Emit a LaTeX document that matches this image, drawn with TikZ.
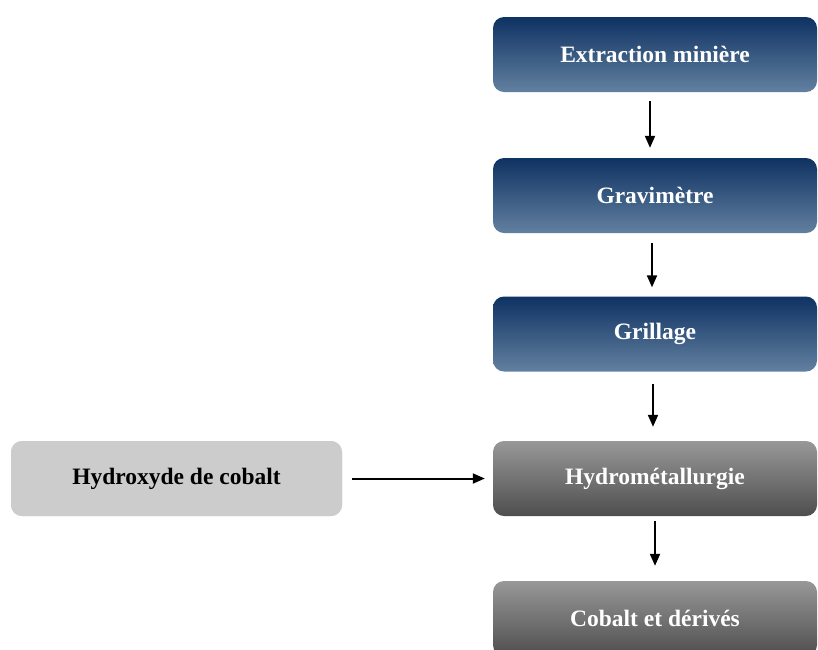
\documentclass[tikz,border=0pt]{standalone}
\usepackage{fontspec}
\setmainfont{Liberation Serif}
\usetikzlibrary{arrows.meta}

\definecolor{bluetop}{RGB}{14,50,98}
\definecolor{bluebot}{RGB}{98,128,160}
\definecolor{graytop}{RGB}{152,152,152}
\definecolor{graybot}{RGB}{78,78,78}
\definecolor{lightbox}{RGB}{204,204,204}

\tikzset{
    stepblue/.style={rounded corners=11pt, minimum width=324pt, minimum height=75pt,
        inner sep=0pt, top color=bluetop, bottom color=bluebot, text=white,
        font=\fontsize{23.5}{26}\selectfont\bfseries},
    stepgray/.style={stepblue, top color=graytop, bottom color=graybot},
    stepin/.style={stepblue, minimum width=331pt, fill=lightbox, top color=lightbox,
        bottom color=lightbox, text=black},
    flow/.style={line width=2pt, -{Triangle[length=12pt,width=10pt]}}
}

\begin{document}
\begin{tikzpicture}[x=1pt,y=-1pt]
    \useasboundingbox (0,0) rectangle (818,649);
    % etapes
    \node[stepblue] (extr) at (655,54.5) {Extraction minière};
    \node[stepblue] (grav) at (655,195.5) {Gravimètre};
    \node[stepblue] (grill) at (655,334) {Grillage};
    \node[stepgray] (hydro) at (655,478.5) {Hydrométallurgie};
    \node[stepgray] (cob) at (655,618.5) {Cobalt et dérivés};
    \node[stepin] (hydrox) at (176.5,478.5) {Hydroxyde de cobalt};
    % fleches
    \draw[flow, shorten <=9pt, shorten >=10pt] ([xshift=-5pt]extr.south) -- ([xshift=-5pt]grav.north);
    \draw[flow, shorten <=10pt, shorten >=9pt] ([xshift=-3pt]grav.south) -- ([xshift=-3pt]grill.north);
    \draw[flow, shorten <=12pt, shorten >=14pt] ([xshift=-2pt]grill.south) -- ([xshift=-2pt]hydro.north);
    \draw[flow, shorten <=5pt, shorten >=15pt] ([xshift=0pt]hydro.south) -- ([xshift=0pt]cob.north);
    \draw[flow, shorten <=10pt, shorten >=8pt] (hydrox.east) -- (hydro.west);
\end{tikzpicture}
\end{document}
